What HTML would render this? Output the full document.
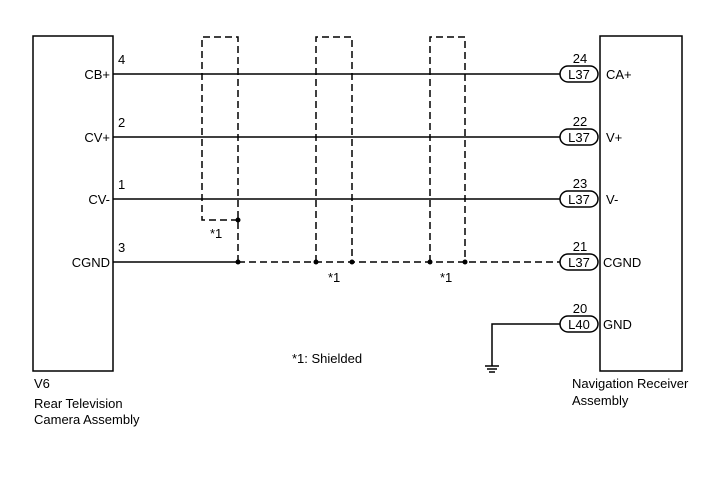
<!DOCTYPE html>
<html><head><meta charset="utf-8"><style>
html,body{margin:0;padding:0;background:#fff;}
svg{display:block;font-family:"Liberation Sans",Arial,sans-serif;}
text{font-size:13px;fill:#000;}
</style></head><body>
<svg width="713" height="481" viewBox="0 0 713 481" xmlns="http://www.w3.org/2000/svg">
<g stroke="#000" stroke-width="1.5" fill="none">
<rect x="33" y="36" width="80" height="335"/>
<rect x="600" y="36" width="82" height="335"/>
<line x1="113" y1="74" x2="560" y2="74"/>
<line x1="113" y1="137" x2="560" y2="137"/>
<line x1="113" y1="199" x2="560" y2="199"/>
<line x1="113" y1="262" x2="238" y2="262"/>
<polyline points="560,324 492,324 492,366"/>
<line x1="485" y1="366" x2="499" y2="366"/>
<line x1="487" y1="369" x2="497" y2="369"/>
<line x1="489" y1="372" x2="495" y2="372"/>
</g>
<g stroke="#000" stroke-width="1.5" fill="none" stroke-dasharray="7,4">
<polyline points="238,220 202,220 202,37 238,37 238,262"/>
<polyline points="316,262 316,37 352,37 352,262"/>
<polyline points="430,262 430,37 465,37 465,262"/>
<line x1="238" y1="262" x2="560" y2="262"/>
</g>
<g fill="#000">
<circle cx="238" cy="220" r="2.5"/>
<circle cx="238" cy="262" r="2.5"/>
<circle cx="316" cy="262" r="2.5"/>
<circle cx="352" cy="262" r="2.5"/>
<circle cx="430" cy="262" r="2.5"/>
<circle cx="465" cy="262" r="2.5"/>
</g>
<g stroke="#000" stroke-width="1.5" fill="#fff">
<rect x="560" y="66" width="38" height="16" rx="8"/>
<rect x="560" y="129" width="38" height="16" rx="8"/>
<rect x="560" y="191" width="38" height="16" rx="8"/>
<rect x="560" y="254" width="38" height="16" rx="8"/>
<rect x="560" y="316" width="38" height="16" rx="8"/>
</g>
<g text-anchor="middle">
<text x="579" y="79">L37</text><text x="579" y="142">L37</text><text x="579" y="204">L37</text><text x="579" y="267">L37</text><text x="579" y="329">L40</text>
<text x="580" y="63">24</text><text x="580" y="126">22</text><text x="580" y="188">23</text><text x="580" y="251">21</text><text x="580" y="313">20</text>
</g>
<text x="606" y="79">CA+</text><text x="606" y="142">V+</text><text x="606" y="204">V-</text><text x="603" y="267">CGND</text><text x="603" y="329">GND</text>
<g text-anchor="end">
<text x="110" y="79">CB+</text><text x="110" y="142">CV+</text><text x="110" y="204">CV-</text><text x="110" y="267">CGND</text>
</g>
<text x="118" y="64">4</text><text x="118" y="127">2</text><text x="118" y="189">1</text><text x="118" y="252">3</text>
<text x="210" y="238">*1</text><text x="328" y="282">*1</text><text x="440" y="282">*1</text>
<text x="292" y="363">*1: Shielded</text>
<text x="34" y="388">V6</text>
<text x="34" y="408">Rear Television</text>
<text x="34" y="424">Camera Assembly</text>
<text x="572" y="388">Navigation Receiver</text>
<text x="572" y="405">Assembly</text>
</svg>
</body></html>
